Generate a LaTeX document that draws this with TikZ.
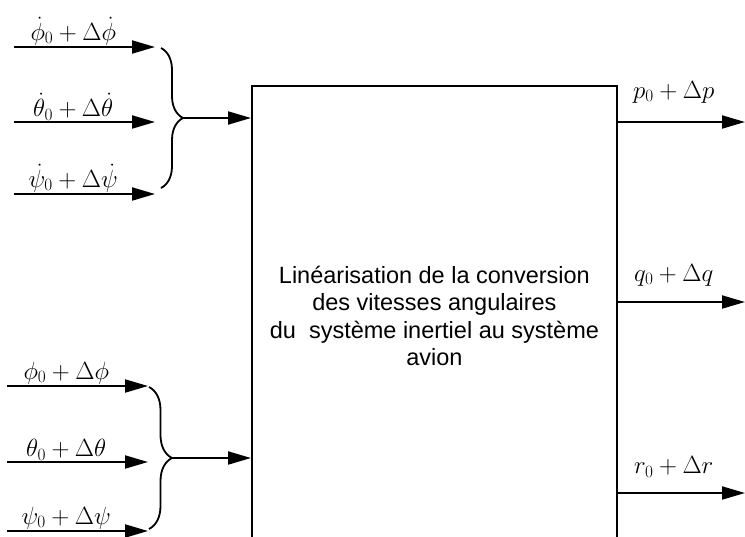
\documentclass[tikz,border=0pt]{standalone}
\usepackage{fontspec}
\setmainfont{Liberation Sans}
\usetikzlibrary{arrows.meta,decorations.pathreplacing}

\begin{document}
\begin{tikzpicture}[
  x=1pt,y=-1pt,
  >={Triangle[length=23pt,width=13pt]},
  sig/.style={->,line width=2pt},
  lab/.style={font=\fontsize{25}{28}\selectfont,inner sep=1pt},
  grp/.style={decorate,decoration={brace,amplitude=#1},line width=1.8pt},
  sys/.style={draw,line width=1.8pt,minimum width=365pt,minimum height=460pt,
    anchor=north west,align=center,font=\fontsize{23.5}{27.5}\selectfont}
]
  \useasboundingbox (0,0) rectangle (745,536);
  \node[sys] (conv) at (251,85) {Linéarisation de la conversion\\des vitesses angulaires\\du\ \ système inertiel au système\\avion};
  % rates
  \coordinate (dphiA) at (14,47);   \coordinate (dphiB) at (155,47);
  \coordinate (dthetaA) at (14,122); \coordinate (dthetaB) at (155,122);
  \coordinate (dpsiA) at (14,194);  \coordinate (dpsiB) at (155,194);
  \draw[sig] (dphiA) -- node[lab,above,pos=0.42] {$\dot\phi_0+\Delta\dot\phi$} (dphiB);
  \draw[sig] (dthetaA) -- node[lab,above,pos=0.42] {$\dot\theta_0+\Delta\dot\theta$} (dthetaB);
  \draw[sig] (dpsiA) -- node[lab,above,pos=0.42] {$\dot\psi_0+\Delta\dot\psi$} (dpsiB);
  \draw[grp=22pt] (161,48) -- (161,188);
  \coordinate (rates) at (183,118);
  \draw[sig] (rates) -- (conv.west |- rates);
  % angles
  \coordinate (phiA) at (7,386);   \coordinate (phiB) at (148,386);
  \coordinate (thetaA) at (7,462); \coordinate (thetaB) at (148,462);
  \coordinate (psiA) at (7,531);   \coordinate (psiB) at (148,531);
  \draw[sig] (phiA) -- node[lab,above,pos=0.42] {$\phi_0+\Delta\phi$} (phiB);
  \draw[sig] (thetaA) -- node[lab,above,pos=0.42] {$\theta_0+\Delta\theta$} (thetaB);
  \draw[sig] (psiA) -- node[lab,above,pos=0.42] {$\psi_0+\Delta\psi$} (psiB);
  \draw[grp=23pt] (149,387) -- (149,529);
  \coordinate (angles) at (172,458);
  \draw[sig] (angles) -- (conv.west |- angles);
  % outputs
  \coordinate (p) at (745,122);
  \coordinate (q) at (745,302);
  \coordinate (r) at (745,493);
  \draw[sig] (conv.east |- p) -- node[lab,above=17pt,pos=0.44] {$p_0+\Delta p$} (p);
  \draw[sig] (conv.east |- q) -- node[lab,above=14pt,pos=0.44] {$q_0+\Delta q$} (q);
  \draw[sig] (conv.east |- r) -- node[lab,above=14pt,pos=0.44] {$r_0+\Delta r$} (r);
\end{tikzpicture}
\end{document}
